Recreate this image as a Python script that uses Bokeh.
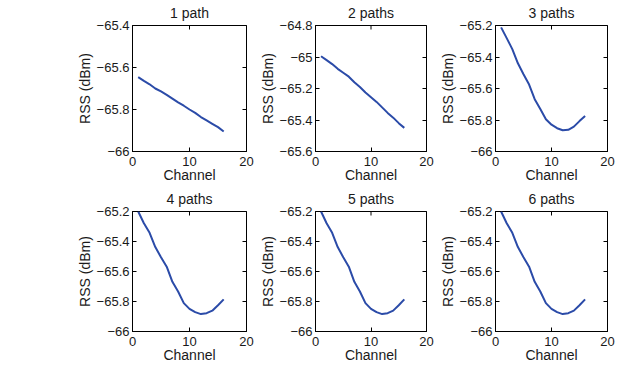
import math
from bokeh.plotting import figure
from bokeh.layouts import column, row
from bokeh.models import Range1d, FixedTicker, LinearAxis, CustomJSTickFormatter
from bokeh.embed import file_html
from bokeh.resources import INLINE

channels = list(range(1, 17))

rss_1path = [-65.646, -65.664, -65.680, -65.700, -65.714, -65.730, -65.748, -65.766,
             -65.782, -65.800, -65.816, -65.836, -65.852, -65.868, -65.884, -65.905]
rss_2paths = [-64.995, -65.020, -65.045, -65.075, -65.100, -65.125, -65.160, -65.190,
              -65.225, -65.255, -65.285, -65.320, -65.355, -65.385, -65.420, -65.450]
rss_3paths = [-65.212, -65.280, -65.350, -65.440, -65.510, -65.575, -65.668, -65.730,
              -65.795, -65.830, -65.852, -65.865, -65.862, -65.842, -65.807, -65.774]
rss_4paths = [-65.200, -65.278, -65.342, -65.437, -65.505, -65.568, -65.669, -65.733,
              -65.811, -65.849, -65.871, -65.884, -65.878, -65.861, -65.825, -65.786]
rss_5paths = [-65.200, -65.278, -65.342, -65.437, -65.505, -65.568, -65.669, -65.733,
              -65.811, -65.849, -65.871, -65.884, -65.878, -65.861, -65.825, -65.786]
rss_6paths = [-65.200, -65.278, -65.342, -65.437, -65.505, -65.568, -65.669, -65.733,
              -65.811, -65.849, -65.871, -65.884, -65.878, -65.861, -65.825, -65.786]

titles = ["1 path", "2 paths", "3 paths", "4 paths", "5 paths", "6 paths"]
series = [rss_1path, rss_2paths, rss_3paths, rss_4paths, rss_5paths, rss_6paths]
y_limits = [(-66.0, -65.4), (-65.6, -64.8), (-66.0, -65.2),
            (-66.0, -65.2), (-66.0, -65.2), (-66.0, -65.2)]
x_limits = (0, 20)
x_ticks = [0, 10, 20]
x_label = "Channel"
y_label = "RSS (dBm)"

LINE_COLOR = "#2b4ba8"
FONT = "Liberation Sans"
TEXT_COLOR = "#1a1a1a"

fmt_code = "var v = Math.round(tick*10)/10; return v.toString().replace('-', '\u2212');"

col_geom = [(256, 132, 10), (180, 56, 10), (183, 56, 12)]
row_geom = [(187, 25, 36), (183, 22, 39)]


def make_panel(i):
    r, c = divmod(i, 3)
    w, bl, br = col_geom[c]
    h, bt, bb = row_geom[r]
    lo, hi = y_limits[i]
    yt = [round(lo + k * 0.2, 1) for k in range(int(round((hi - lo) / 0.2)) + 1)]
    p = figure(width=w, height=h, output_backend="svg", toolbar_location=None,
               x_range=Range1d(*x_limits), y_range=Range1d(lo, hi),
               min_border_left=bl, min_border_right=br,
               min_border_top=bt, min_border_bottom=bb,
               title=titles[i])
    p.title.align = "center"
    p.title.vertical_align = "top"
    p.title.text_font = FONT
    p.title.text_font_size = "14px"
    p.title.text_font_style = "normal"
    p.title.text_color = TEXT_COLOR
    p.title.text_line_height = 0.6
    p.title.standoff = 6
    p.grid.visible = False
    p.outline_line_color = "black"
    p.outline_line_width = 1
    p.background_fill_color = "white"
    p.border_fill_color = "white"

    p.line(channels, series[i], line_width=2, line_color=LINE_COLOR)

    # inward tick marks on the top edge (box on); the frame clips the outer half
    p.scatter(x_ticks, [hi] * len(x_ticks), marker="dash", size=8, angle=math.pi / 2,
              line_color="black", line_width=1)

    xa = p.xaxis[0]
    xa.ticker = FixedTicker(ticks=x_ticks)
    xa.axis_label = x_label
    ya = p.yaxis[0]
    ya.ticker = FixedTicker(ticks=yt)
    ya.formatter = CustomJSTickFormatter(code=fmt_code)
    ya.axis_label = y_label
    for ax in (xa, ya):
        ax.major_tick_in = 4
        ax.major_tick_out = 0
        ax.minor_tick_in = 0
        ax.minor_tick_out = 0
        ax.axis_line_color = "black"
        ax.major_tick_line_color = "black"
        ax.major_label_text_font = FONT
        ax.major_label_text_font_size = "13px"
        ax.major_label_text_color = TEXT_COLOR
        ax.axis_label_text_font = FONT
        ax.axis_label_text_font_size = "14px"
        ax.axis_label_text_font_style = "normal"
        ax.axis_label_text_color = TEXT_COLOR
    xa.major_label_standoff = 5
    xa.axis_label_standoff = -2
    ya.major_label_standoff = 3
    ya.axis_label_standoff = 1

    right = LinearAxis(ticker=FixedTicker(ticks=yt))
    right.major_tick_in = 4
    right.major_tick_out = 0
    right.minor_tick_in = 0
    right.minor_tick_out = 0
    right.major_label_text_font_size = "1px"
    right.major_label_text_color = None
    right.major_label_text_alpha = 0
    right.major_label_standoff = 0
    right.major_tick_line_color = "black"
    right.axis_line_color = None
    p.add_layout(right, "right")
    return p


panels = [make_panel(i) for i in range(6)]
layout = column(row(*panels[:3]), row(*panels[3:]))

open("out.html", "w").write(file_html(layout, INLINE))
